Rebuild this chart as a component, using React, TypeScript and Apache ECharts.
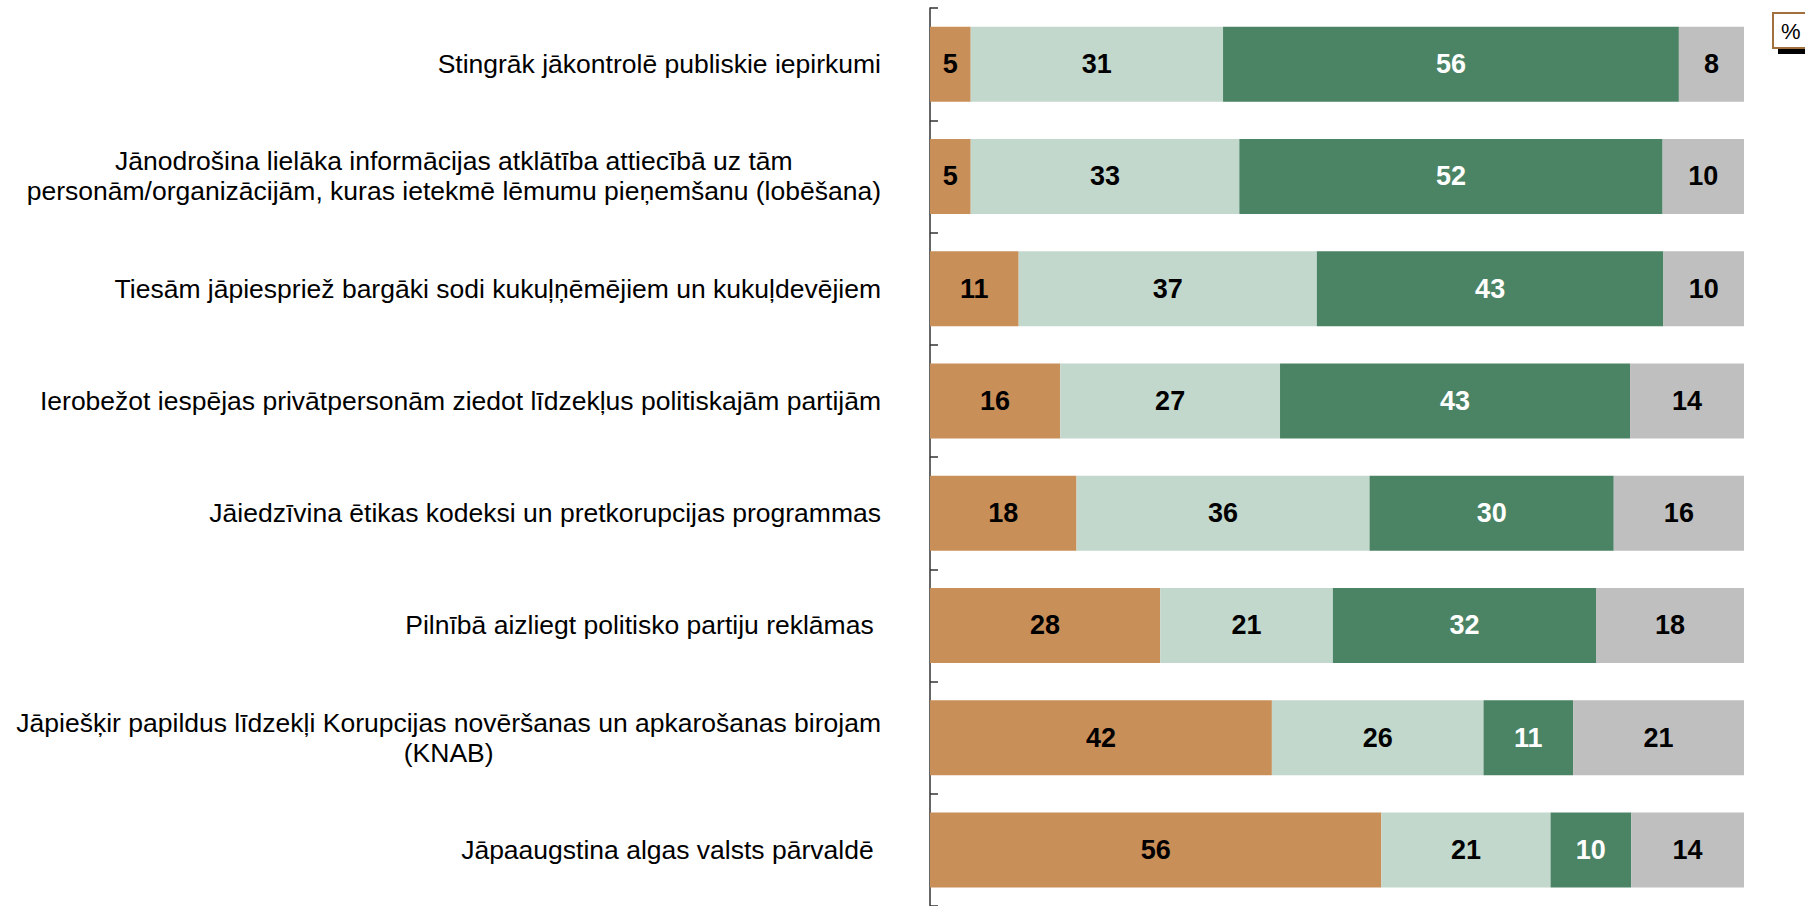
import React, { useEffect, useRef } from 'react';
import * as echarts from 'echarts';

const categories = [
  'Stingrāk jākontrolē publiskie iepirkumi',
  'Jānodrošina lielāka informācijas atklātība attiecībā uz tām\npersonām/organizācijām, kuras ietekmē lēmumu pieņemšanu (lobēšana)',
  'Tiesām jāpiespriež bargāki sodi kukuļņēmējiem un kukuļdevējiem',
  'Ierobežot iespējas privātpersonām ziedot līdzekļus politiskajām partijām',
  'Jāiedzīvina ētikas kodeksi un pretkorupcijas programmas',
  'Pilnībā aizliegt politisko partiju reklāmas ',
  'Jāpiešķir papildus līdzekļi Korupcijas novēršanas un apkarošanas birojam\n(KNAB)',
  'Jāpaaugstina algas valsts pārvaldē ',
];

const seriesNames = ['Nepalīdzētu', 'Drīzāk palīdzētu', 'Noteikti palīdzētu', 'Grūti pateikt'];
const s1 = [5, 5, 11, 16, 18, 28, 42, 56];
const s2 = [31, 33, 37, 27, 36, 21, 26, 21];
const s3 = [56, 52, 43, 43, 30, 32, 11, 10];
const s4 = [8, 10, 10, 14, 16, 18, 21, 14];
const seriesColors = ['#C98F59', '#C3D8CD', '#4B8465', '#BFBFBF'];
const labelColors = ['#000000', '#000000', '#FFFFFF', '#000000'];

const FONT = '"Liberation Sans", Arial, sans-serif';

export default function App() {
  const ref = useRef<HTMLDivElement>(null);
  useEffect(() => {
    const chart = echarts.init(ref.current!, null, { renderer: 'svg' });
    const all = [s1, s2, s3, s4];
    const sums = categories.map((_, i) => all.reduce((a, s) => a + s[i], 0));
    const option: any = {
      animation: false,
      backgroundColor: '#ffffff',
      grid: { left: 930, top: 8, width: 814, height: 901 },
      xAxis: { type: 'value', min: 0, max: 100, show: false },
      yAxis: {
        type: 'category',
        inverse: true,
        data: categories,
        offset: 24,
        axisLine: { show: true, lineStyle: { color: '#333333', width: 1.5 } },
        axisTick: { show: true, inside: true, length: 8, lineStyle: { color: '#333333', width: 1.5 } },
        axisLabel: {
          margin: 25,
          fontSize: 26.5,
          lineHeight: 30,
          color: '#000',
          fontFamily: FONT,
          formatter: (v: string) => {
            if (v.indexOf('\n') >= 0) {
              return v.split('\n').map((l) => `{c|${l}}`).join('\n');
            }
            return v;
          },
          rich: {
            c: { align: 'center', fontSize: 26.5, lineHeight: 30, fontFamily: FONT, color: '#000' },
          },
        },
        splitLine: { show: false },
      },
      series: all.map((arr, k) => ({
        name: seriesNames[k],
        type: 'bar',
        stack: 'total',
        barWidth: 75,
        data: arr.map((v, i) => (v / sums[i]) * 100),
        itemStyle: { color: seriesColors[k] },
        label: {
          show: true,
          position: 'inside',
          fontSize: 27,
          fontWeight: 'bold',
          fontFamily: FONT,
          color: labelColors[k],
          formatter: (p: any) => String(arr[p.dataIndex]),
        },
      })),
      graphic: [
        { type: 'rect', shape: { x: 1778, y: 17, width: 40, height: 37 }, style: { fill: '#000' } },
        { type: 'rect', shape: { x: 1773, y: 13, width: 40, height: 35 }, style: { fill: '#fff', stroke: '#A0703F', lineWidth: 2 } },
        { type: 'text', x: 1781, y: 31, style: { text: '%', font: `22px ${FONT}`, fill: '#000', verticalAlign: 'middle' } },
      ],
    };
    chart.setOption(option);
    return () => chart.dispose();
  }, []);
  return <div ref={ref} style={{ position: 'fixed', left: 0, top: 0, width: 1805, height: 906 }} />;
}
